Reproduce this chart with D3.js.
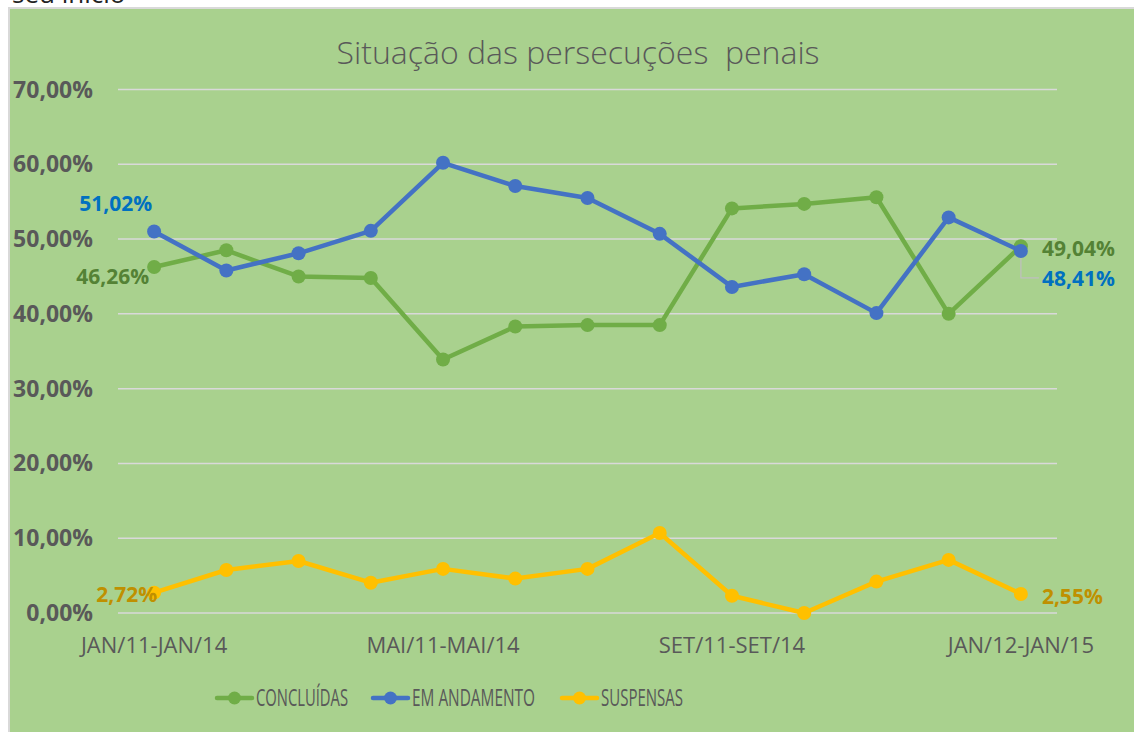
<!DOCTYPE html>
<html>
<head>
<meta charset="utf-8">
<script src="https://cdn.jsdelivr.net/npm/d3@7"></script>
<style>
  body { margin: 0; background: #fff; }
  svg { display: block; font-family: "Open Sans", Lato, sans-serif; }
</style>
</head>
<body>
<script>
// periods (13 rolling windows), only every 4th is labelled on the axis
var periods = ["JAN/11-JAN/14", "FEV/11-FEV/14", "MAR/11-MAR/14", "ABR/11-ABR/14",
  "MAI/11-MAI/14", "JUN/11-JUN/14", "JUL/11-JUL/14", "AGO/11-AGO/14",
  "SET/11-SET/14", "OUT/11-OUT/14", "NOV/11-NOV/14", "DEZ/11-DEZ/14", "JAN/12-JAN/15"];
var tickLabels = ["JAN/11-JAN/14", "MAI/11-MAI/14", "SET/11-SET/14", "JAN/12-JAN/15"];
var yTicks = [0, 10, 20, 30, 40, 50, 60, 70];

var concluidas = [46.26, 48.5, 45.0, 44.8, 33.9, 38.3, 38.5, 38.5, 54.1, 54.7, 55.6, 40.0, 49.04];
var emAndamento = [51.02, 45.8, 48.1, 51.1, 60.2, 57.1, 55.5, 50.7, 43.6, 45.3, 40.1, 52.9, 48.41];
var suspensas = [2.72, 5.75, 6.95, 4.05, 5.9, 4.6, 5.9, 10.7, 2.3, 0.0, 4.2, 7.1, 2.55];

var seriesNames = ["CONCLUÍDAS", "EM ANDAMENTO", "SUSPENSAS"];

var W = 1134, H = 732;

var svg = d3.select("body").append("svg")
    .attr("width", W)
    .attr("height", H);

// text above the chart, cut off by the screenshot
svg.append("text")
    .attr("x", 12).attr("y", 3)
    .style("font-size", "26px")
    .style("fill", "#222")
    .text("seu início");

// chart area
svg.append("rect")
    .attr("x", 9).attr("y", 8)
    .attr("width", W).attr("height", H)
    .attr("fill", "#a9d18e")
    .attr("stroke", "#d9d9d9")
    .attr("stroke-width", 2);

var x = d3.scaleBand()
    .domain(periods)
    .range([118, 1057]);

var y = d3.scaleLinear()
    .domain([0, 70])
    .range([613, 89.5]);

var pt = d3.formatLocale({decimal: ",", thousands: ".", grouping: [3], currency: ["R$", ""]});
var fmt = function(v) { return pt.format(".2f")(v) + "%"; };

// gridlines
svg.append("g")
    .selectAll("line")
    .data(yTicks)
    .enter().append("line")
    .attr("x1", 118).attr("x2", 1057)
    .attr("y1", function(d) { return y(d); })
    .attr("y2", function(d) { return y(d); })
    .attr("stroke", "#d9d9d9")
    .attr("stroke-width", 1.5);

// y axis labels
svg.append("g")
    .selectAll("text")
    .data(yTicks)
    .enter().append("text")
    .attr("x", 93)
    .attr("y", function(d) { return y(d); })
    .attr("dy", "0.35em")
    .attr("text-anchor", "end")
    .style("font-size", "23px")
    .style("font-weight", "bold")
    .style("fill", "#595959")
    .text(function(d) { return fmt(d); });

// x axis labels
svg.append("g")
    .selectAll("text")
    .data(tickLabels)
    .enter().append("text")
    .attr("x", function(d) { return x(d) + x.bandwidth() / 2; })
    .attr("y", 653)
    .attr("text-anchor", "middle")
    .style("font-size", "22px")
    .style("fill", "#595959")
    .text(function(d) { return d; });

// title
svg.append("text")
    .attr("x", 578)
    .attr("y", 64)
    .attr("text-anchor", "middle")
    .style("font-size", "32px")
    .style("font-weight", 300)
    .style("fill", "#595959")
    .style("white-space", "pre")
    .text("Situação das persecuções  penais");

var series = [
  {name: seriesNames[0], values: concluidas, color: "#70ad47", label: "#548235"},
  {name: seriesNames[1], values: emAndamento, color: "#4472c4", label: "#0070c0"},
  {name: seriesNames[2], values: suspensas, color: "#ffc000", label: "#bf9000"}
];

var line = d3.line()
    .x(function(d, i) { return x(periods[i]) + x.bandwidth() / 2; })
    .y(function(d) { return y(d); });

series.forEach(function(s) {
    var g = svg.append("g");
    g.append("path")
        .datum(s.values)
        .attr("fill", "none")
        .attr("stroke", s.color)
        .attr("stroke-width", 4.5)
        .attr("stroke-linejoin", "round")
        .attr("d", line);
    g.selectAll("circle")
        .data(s.values)
        .enter().append("circle")
        .attr("cx", function(d, i) { return x(periods[i]) + x.bandwidth() / 2; })
        .attr("cy", function(d) { return y(d); })
        .attr("r", 7)
        .attr("fill", s.color);
});

// data labels at first and last point
var cx0 = x(periods[0]) + x.bandwidth() / 2;
var cxN = x(periods[12]) + x.bandwidth() / 2;

// leader line for the last EM ANDAMENTO label
svg.append("path")
    .attr("d", "M" + cxN + "," + (y(emAndamento[12]) + 7) + "V" + (y(emAndamento[12]) + 27) + "H" + (cxN + 18))
    .attr("fill", "none")
    .attr("stroke", "#bfbfbf")
    .attr("stroke-width", 1.2);

var labels = [
  {v: concluidas[0], x: cx0 - 5, y: y(concluidas[0]) + 10, anchor: "end", c: series[0].label},
  {v: emAndamento[0], x: cx0 - 2, y: y(emAndamento[0]) - 28, anchor: "end", c: series[1].label},
  {v: suspensas[0], x: cx0 + 3, y: y(suspensas[0]) + 2, anchor: "end", c: series[2].label},
  {v: concluidas[12], x: cxN + 21, y: y(concluidas[12]) + 2, anchor: "start", c: series[0].label},
  {v: emAndamento[12], x: cxN + 21, y: y(emAndamento[12]) + 28, anchor: "start", c: series[1].label},
  {v: suspensas[12], x: cxN + 21, y: y(suspensas[12]) + 3, anchor: "start", c: series[2].label}
];

svg.append("g")
    .selectAll("text")
    .data(labels)
    .enter().append("text")
    .attr("x", function(d) { return d.x; })
    .attr("y", function(d) { return d.y; })
    .attr("dy", "0.35em")
    .attr("text-anchor", function(d) { return d.anchor; })
    .style("font-size", "21px")
    .style("font-weight", "bold")
    .style("fill", function(d) { return d.c; })
    .text(function(d) { return fmt(d.v); });

// legend
var legendX = [217, 373, 562];
var legendW = [92, 123, 82];
var legend = svg.append("g")
    .selectAll("g")
    .data(series)
    .enter().append("g")
    .attr("transform", function(d, i) { return "translate(" + legendX[i] + ",698)"; });

legend.append("line")
    .attr("x1", 0).attr("x2", 35)
    .attr("stroke", function(d) { return d.color; })
    .attr("stroke-width", 4.5)
    .attr("stroke-linecap", "round");

legend.append("circle")
    .attr("cx", 17.5)
    .attr("r", 6.5)
    .attr("fill", function(d) { return d.color; });

legend.append("text")
    .attr("x", 39)
    .attr("dy", "0.36em")
    .attr("textLength", function(d, i) { return legendW[i]; })
    .attr("lengthAdjust", "spacingAndGlyphs")
    .style("font-size", "23px")
    .style("fill", "#595959")
    .text(function(d) { return d.name; });
</script>
</body>
</html>
